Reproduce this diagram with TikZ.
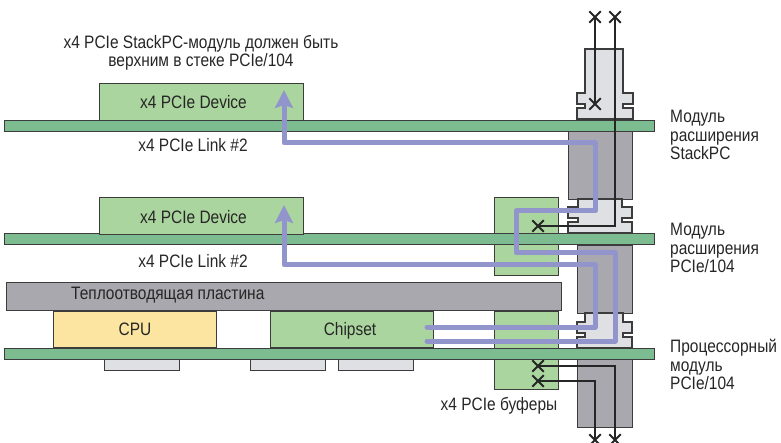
\documentclass[tikz,border=0pt]{standalone}
\usepackage{fontspec}
\setmainfont{Liberation Sans}[FakeStretch=0.86]
\usetikzlibrary{arrows.meta,shapes.misc}
\definecolor{boardgreen}{HTML}{7DBB90}
\definecolor{chipgreen}{HTML}{ABD59E}
\definecolor{cpuyellow}{HTML}{FBE5A0}
\definecolor{darkgrey}{HTML}{A8A8AE}
\definecolor{lightgrey}{HTML}{DFE0E4}
\definecolor{lanecolor}{HTML}{9195CC}
\definecolor{edgegrey}{HTML}{3C3C3C}
% args: outer left, body left, body right, outer right, top, flange top, bottom
\newcommand{\matingconn}[7]{
\draw[connlight] (#2,#5) -- (#3,#5) -- (#3,#6) -- (#4,#6) -- (#4,#6+11) -- (#3,#6+11) -- (#3,#6+15) -- (#4,#6+15) -- (#4,#7)
  -- (#1,#7) -- (#1,#6+15) -- (#2,#6+15) -- (#2,#6+11) -- (#1,#6+11) -- (#1,#6) -- (#2,#6) -- cycle;
\draw[line width=1.6pt,edgegrey] (#1,#7) -- (#4,#7);
}
\begin{document}
\begin{tikzpicture}[x=1pt,y=-1pt,
  every node/.style={font=\fontsize{18}{18.5}\selectfont,text=black!85,inner sep=0pt},
  block/.style={draw=edgegrey,line width=1.1pt,anchor=north west},
  board/.style={block,fill=boardgreen,minimum width=650pt,minimum height=11pt},
  device/.style={block,fill=chipgreen,minimum width=204pt,minimum height=37pt},
  chip/.style={block,minimum width=163pt,minimum height=36pt},
  buffer/.style={block,fill=chipgreen,minimum width=64pt},
  hsink/.style={block,fill=darkgrey},
  smd/.style={block,fill=lightgrey,minimum width=75pt,minimum height=11pt},
  connlight/.style={draw=edgegrey,line width=1.1pt,fill=lightgrey},
  lane/.style={draw=lanecolor,line width=5pt,line join=round,line cap=round},
  sig/.style={draw=black!85,line width=1.4pt},
  xmark/.style={cross out,draw=black!85,line width=2pt,minimum size=9.5pt},
  label/.style={align=left,anchor=north west}]
\useasboundingbox (0,0) rectangle (781,443);
% buffers and connector bodies sit behind the boards
\node[buffer,minimum height=78pt] (bufU) at (494,197) {};
\node[buffer,minimum height=78pt] (bufL) at (494,311) {};
\node[hsink,minimum width=64pt,minimum height=68pt] (connA) at (568,131) {};
\node[hsink,minimum width=55pt,minimum height=68pt] (connB) at (577,245) {};
\node[hsink,minimum width=55pt,minimum height=69pt] (connC) at (577,358) {};
\matingconn{577}{585}{623}{633}{49}{93}{119}
\matingconn{568}{578}{622}{632}{199}{207}{233}
\matingconn{577}{585}{623}{632}{313}{322}{348}
% boards
\node[board] (boardA) at (4,120) {};
\node[board] (boardB) at (4,233) {};
\node[board] (boardC) at (4,348) {};
\node[device] (devA) at (99,83) {};
\node[device] (devB) at (99,197) {};
\node (devAL) at (193.5,102) {x4 PCIe Device};
\node (devBL) at (193.5,217) {x4 PCIe Device};
\node[hsink,minimum width=555pt,minimum height=28pt] (plate) at (6,282) {};
\node[anchor=west] (plateL) at (71,295) {Теплоотводящая пластина};
\node[chip,fill=cpuyellow] (cpu) at (53,311) {CPU};
\node[chip,fill=chipgreen] (chipset) at (270,311) {};
\node (chipsetL) at (350,331) {Chipset};
\node[smd] (smdA) at (104,359) {};
\node[smd] (smdB) at (250,359) {};
\node[smd] (smdC) at (338,359) {};
% texts
\node[align=center] (capt) at (201,53) {x4 PCIe StackPC-модуль должен быть\\верхним в стеке PCIe/104};
\node (linkA) at (193,145) {x4 PCIe Link \#2};
\node (linkB) at (193,261) {x4 PCIe Link \#2};
\node (bufL2) at (499,406) {x4 PCIe буферы};
\node[label] (modA) at (670,110) {Модуль\\расширения\\StackPC};
\node[label] (modB) at (670,223) {Модуль\\расширения\\PCIe/104};
\node[label] (modC) at (670,339) {Процессорный\\модуль\\PCIe/104};
% lanes
\coordinate (laneAs) at (427,341);
\coordinate (laneAt) at (284,90);
\coordinate (laneBs) at (427,327);
\coordinate (laneBt) at (284,205);
\draw[lane,-{Stealth[width=18pt,length=18pt,inset=3pt]}] (laneAs) -- (615,341) -- (615,253) -- (516,253) -- (516,211) -- (595,211) -- (595,143) -- (284,143) -- (laneAt);
\draw[lane,-{Stealth[width=18pt,length=18pt,inset=3pt]}] (laneBs) -- (595,327) -- (595,265) -- (284,265) -- (laneBt);
% signals
\node[xmark] (xTopA) at (595,17) {};
\node[xmark] (xTopB) at (615,17) {};
\node[xmark] (xConn) at (595,104) {};
\node[xmark] (xBufU) at (538,226) {};
\node[xmark] (xBufA) at (538,366) {};
\node[xmark] (xBufB) at (538,381) {};
\node[xmark] (xBotA) at (595,440) {};
\node[xmark] (xBotB) at (615,440) {};
\draw[sig] (xTopA.center) -- (xConn.center);
\draw[sig] (xTopB.center) -- (615,226) -- (xBufU.center);
\draw[sig] (xBufA.center) -- (615,366) -- (xBotB.center);
\draw[sig] (xBufB.center) -- (595,381) -- (xBotA.center);
\end{tikzpicture}
\end{document}
